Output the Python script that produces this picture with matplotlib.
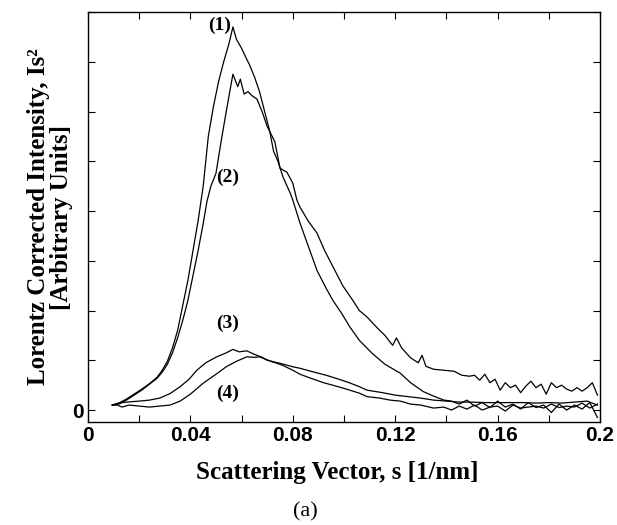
#!/usr/bin/env python3

import matplotlib
matplotlib.use('Agg')
import matplotlib.pyplot as plt
import numpy as np

# curve (1): highest peak, faster decay
s1 = [0.0095, 0.012, 0.015, 0.018, 0.021, 0.024, 0.027, 0.029, 0.031, 0.033,
      0.035, 0.037, 0.039, 0.041, 0.043, 0.045, 0.047, 0.049, 0.051, 0.053,
      0.055, 0.0566, 0.058, 0.060, 0.062, 0.063, 0.065, 0.067, 0.069, 0.071,
      0.0725, 0.0742, 0.0762, 0.079, 0.080, 0.0828, 0.086, 0.0895, 0.093, 0.0957,
      0.099, 0.1023, 0.106, 0.111, 0.116, 0.122, 0.126, 0.131, 0.135, 0.139,
      0.142, 0.145, 0.148, 0.151, 0.154, 0.157, 0.160, 0.163, 0.166, 0.169,
      0.172, 0.175, 0.178, 0.181, 0.184, 0.187, 0.190, 0.193, 0.196, 0.199]
I1 = [0.10, 0.14, 0.22, 0.32, 0.42, 0.53, 0.66, 0.80, 0.98, 1.25,
      1.60, 2.10, 2.60, 3.20, 3.80, 4.50, 5.50, 6.10, 6.60, 7.00,
      7.35, 7.70, 7.45, 7.27, 7.05, 6.95, 6.70, 6.40, 6.00, 5.60,
      5.20, 5.00, 4.68, 4.36, 4.22, 3.76, 3.30, 2.80, 2.45, 2.20,
      1.95, 1.67, 1.40, 1.14, 0.92, 0.74, 0.55, 0.37, 0.28, 0.20,
      0.18, 0.12, 0.20, 0.08, 0.15, 0.05, 0.18, 0.06, 0.12, 0.02,
      0.15, 0.05, 0.10, -0.05, 0.12, 0.00, 0.10, 0.02, 0.15, -0.15]

# curve (2): lower peak, slower decay
s2 = [0.0095, 0.012, 0.015, 0.018, 0.021, 0.024, 0.027, 0.029, 0.031, 0.033,
      0.035, 0.037, 0.039, 0.041, 0.043, 0.045, 0.0465, 0.048, 0.050, 0.052,
      0.054, 0.0566, 0.0585, 0.0595, 0.061, 0.0625, 0.064, 0.066, 0.068, 0.070,
      0.073, 0.075, 0.0777, 0.080, 0.0816, 0.0828, 0.086, 0.0894, 0.0925, 0.0957,
      0.0995, 0.1035, 0.106, 0.109, 0.113, 0.116, 0.119, 0.1205, 0.1225, 0.126,
      0.129, 0.1305, 0.132, 0.135, 0.139, 0.143, 0.146, 0.149, 0.151, 0.153,
      0.155, 0.157, 0.159, 0.161, 0.163, 0.165, 0.167, 0.169, 0.171, 0.173,
      0.175, 0.177, 0.179, 0.181, 0.183, 0.185, 0.187, 0.189, 0.191, 0.193,
      0.195, 0.197, 0.199]
I2 = [0.10, 0.12, 0.20, 0.30, 0.40, 0.52, 0.64, 0.76, 0.92, 1.15,
      1.45, 1.80, 2.20, 2.70, 3.20, 3.75, 4.20, 4.50, 4.76, 5.40,
      6.00, 6.75, 6.50, 6.65, 6.35, 6.40, 6.32, 6.25, 6.00, 5.70,
      5.39, 4.86, 4.78, 4.56, 4.22, 4.08, 3.80, 3.56, 3.20, 2.88,
      2.50, 2.20, 2.00, 1.87, 1.65, 1.50, 1.30, 1.45, 1.25, 1.05,
      0.95, 1.10, 0.88, 0.82, 0.80, 0.78, 0.70, 0.68, 0.70, 0.60,
      0.72, 0.55, 0.62, 0.40, 0.55, 0.45, 0.50, 0.35, 0.48, 0.58,
      0.45, 0.52, 0.32, 0.55, 0.45, 0.50, 0.42, 0.38, 0.45, 0.38,
      0.45, 0.55, 0.30]

# curve (3)
s3 = [0.0095, 0.012, 0.015, 0.020, 0.024, 0.028, 0.032, 0.036, 0.0395, 0.0425,
      0.046, 0.0503, 0.054, 0.0566, 0.059, 0.062, 0.065, 0.068, 0.070, 0.075,
      0.080, 0.0828, 0.087, 0.093, 0.098, 0.102, 0.106, 0.109, 0.115, 0.120,
      0.125, 0.130, 0.135, 0.140, 0.145, 0.150, 0.155, 0.160, 0.165, 0.170,
      0.175, 0.180, 0.185, 0.190, 0.195, 0.199]
I3 = [0.10, 0.14, 0.16, 0.18, 0.20, 0.24, 0.33, 0.47, 0.62, 0.80,
      0.95, 1.07, 1.15, 1.22, 1.17, 1.19, 1.12, 1.06, 1.00, 0.94,
      0.87, 0.84, 0.78, 0.70, 0.62, 0.55, 0.47, 0.40, 0.35, 0.30,
      0.27, 0.24, 0.20, 0.18, 0.16, 0.16, 0.15, 0.15, 0.15, 0.15,
      0.14, 0.15, 0.14, 0.16, 0.18, 0.10]

# curve (4)
s4 = [0.0095, 0.0115, 0.0133, 0.016, 0.020, 0.024, 0.028, 0.032, 0.036, 0.040,
      0.045, 0.050, 0.054, 0.058, 0.062, 0.065, 0.067, 0.069, 0.072, 0.076,
      0.080, 0.0828, 0.087, 0.092, 0.097, 0.101, 0.106, 0.109, 0.114, 0.118,
      0.122, 0.126, 0.130, 0.135, 0.139, 0.142, 0.145, 0.148, 0.151, 0.154,
      0.157, 0.160, 0.163, 0.166, 0.169, 0.172, 0.175, 0.178, 0.181, 0.184,
      0.187, 0.190, 0.193, 0.196, 0.199]
I4 = [0.10, 0.10, 0.06, 0.10, 0.08, 0.06, 0.08, 0.10, 0.18, 0.32,
      0.54, 0.72, 0.87, 0.98, 1.07, 1.06, 1.07, 1.03, 0.97, 0.90,
      0.80, 0.72, 0.64, 0.55, 0.48, 0.42, 0.34, 0.27, 0.24, 0.20,
      0.18, 0.12, 0.10, 0.04, 0.06, 0.00, 0.08, 0.02, 0.10, 0.00,
      0.06, 0.08, -0.02, 0.10, 0.04, 0.06, 0.08, 0.04, 0.12, 0.05,
      0.08, 0.06, 0.14, 0.04, 0.12]

curve_labels = ['(1)', '(2)', '(3)', '(4)']
label_pos = [(0.0512, 7.74), (0.0547, 4.68), (0.0547, 1.75), (0.0547, 0.34)]

x_ticks = np.arange(0, 0.2001, 0.02)
x_ticklabels = ['0', '', '0.04', '', '0.08', '', '0.12', '', '0.16', '', '0.2']
y_ticks = np.arange(0, 9)
y_ticklabels = ['0'] + [''] * 8


def main():
    serif = 'Liberation Serif'
    sans = 'Liberation Sans'

    fig = plt.figure(figsize=(6.17, 5.25), dpi=100)
    ax = fig.add_axes([88 / 617, 1 - 422 / 525, 512 / 617, 410 / 525])

    for s, I in [(s1, I1), (s2, I2), (s3, I3), (s4, I4)]:
        ax.plot(s, I, color='black', lw=0.9)

    for txt, (x, y) in zip(curve_labels, label_pos):
        ax.text(x, y, txt, ha='center', va='center', family=serif,
                weight='bold', fontsize=14)

    ax.set_xlim(0, 0.2)
    ax.set_ylim(-0.24, 8.0)
    ax.set_xticks(x_ticks)
    ax.set_xticklabels(x_ticklabels, family=sans, weight='bold', fontsize=15)
    ax.set_yticks(y_ticks)
    ax.set_yticklabels(y_ticklabels, family=sans, weight='bold', fontsize=15)
    ax.tick_params(direction='in', length=5, width=0.8, top=True, right=True,
                   pad=3)
    for sp in ax.spines.values():
        sp.set_linewidth(1.0)

    fig.text(337 / 617, 1 - 473 / 525, 'Scattering Vector, s [1/nm]',
             ha='center', va='center', family=serif, weight='bold',
             fontsize=18)
    fig.text(50 / 617, 1 - 217 / 525,
             'Lorentz Corrected Intensity, Is\u00b2\n[Arbitrary Units]',
             rotation=90, ha='center', va='center', multialignment='center',
             family=serif, weight='bold', fontsize=18, linespacing=1.05)
    fig.text(305 / 617, 1 - 512 / 525, '(a)', ha='center', va='center',
             family=serif, fontsize=16)

    fig.savefig('out.png', dpi=100)


if __name__ == "__main__":
    main()
